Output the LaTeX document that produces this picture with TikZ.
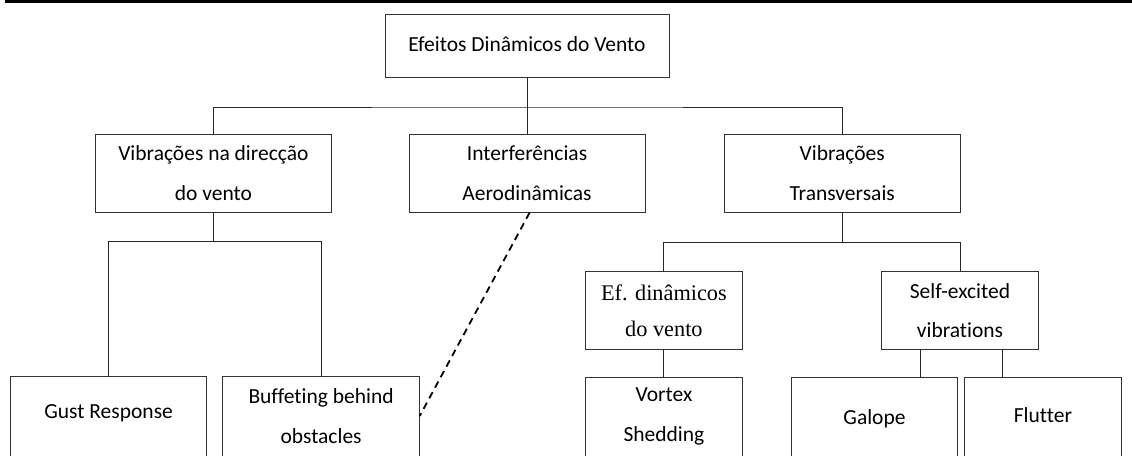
\documentclass[tikz,border=0pt]{standalone}
\usepackage{fontspec}
\setmainfont{Carlito}[Ligatures=NoCommon]
\newfontfamily\camfont{Liberation Serif}
\begin{document}
\begin{tikzpicture}[x=1pt,y=-1pt,
  line/.style={draw=black!85, line width=0.9pt},
  boxnode/.style={draw=black!80, line width=0.9pt, inner sep=0pt, align=center, minimum height=78,
    font=\fontsize{21.5}{39.5}\selectfont},
  opennode/.style={draw=none, inner sep=0pt, align=center, minimum height=78,
    font=\fontsize{21.5}{39.5}\selectfont},
  openline/.style={draw=black!80, line width=0.9pt},
  dashline/.style={draw=black, line width=1.8pt, dash pattern=on 7pt off 5pt}]
\useasboundingbox (0,0) rectangle (1132,455);
\fill[black] (5,0) rectangle (1132,3.4);
% level 0
\node[boxnode, minimum width=284, minimum height=63.4, text height=15, text depth=5] (top) at (527,46) {Efeitos Dinâmicos do Vento};
% level 1
\node[boxnode, minimum width=235.3] (A) at (213.4,173.2) {Vibrações na direcção\\do vento};
\node[boxnode, minimum width=236] (B) at (527,173.2) {Interferências\\Aerodinâmicas};
\node[boxnode, minimum width=236] (C) at (842.2,173.2) {Vibrações\\Transversais};
% level 2 right
\node[boxnode, minimum width=156.7, font=\camfont\fontsize{22.3}{36.7}\selectfont] (Ef) at (663.9,310.85) {Ef. dinâmicos\\do vento};
\node[boxnode, minimum width=156.3] (S) at (960,310.85) {Self-excited\\vibrations};
% bottom row (open at the bottom edge)
\coordinate (bot) at (0,456);
\node[opennode, minimum width=195.7, text height=12, text depth=8] (G) at (108.6,416) {Gust Response};
\node[opennode, minimum width=196.8] (Bf) at (321.1,416) {Buffeting behind\\obstacles};
\node[opennode, minimum width=156.7] (V) at (663.9,416.5) {Vortex\\Shedding};
\node[opennode, minimum width=165.7, text height=16, text depth=0] (Ga) at (874.5,416.5) {Galope};
\node[opennode, minimum width=156.6, text height=14, text depth=2.6] (F) at (1042.9,416.5) {Flutter};
\foreach \n in {G,Bf,V,Ga,F}{
  \draw[openline] (\n.north west |- bot) -- (\n.north west) -- (\n.north east) -- (\n.north east |- bot);
}
% connectors
\coordinate (j1) at (527,107);
\coordinate (j2) at (213.4,241.3);
\coordinate (j3) at (842.2,242.3);
\draw[line] (top) -- (B);
\draw[line] (A.north) |- (j1) -| (C.north);
\draw[line] (A) -- (j2);
\draw[line] (G.north) |- (j2) -| (Bf.north);
\draw[line] (C) -- (j3);
\draw[line] (Ef.north) |- (j3) -| (S.north);
\draw[line] (Ef) -- (V);
\coordinate (s1) at (920.9,350);
\coordinate (s2) at (1002.8,350);
\draw[line] (s1) -- (s1 |- Ga.north);
\draw[line] (s2) -- (s2 |- F.north);
\draw[dashline] ([xshift=2.6pt]B.south) -- (Bf.east);
\end{tikzpicture}
\end{document}
